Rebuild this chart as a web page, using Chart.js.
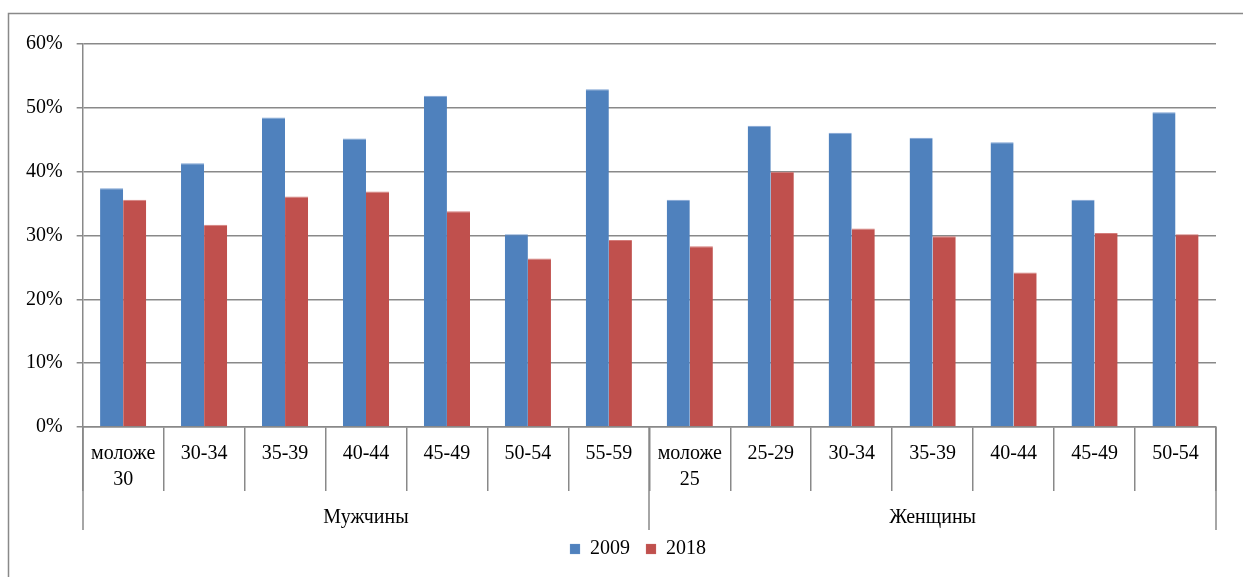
<!DOCTYPE html>
<html>
<head>
<meta charset="utf-8">
<script src="https://cdn.jsdelivr.net/npm/chart.js@4"></script>
<style>
  html, body { margin: 0; padding: 0; background: #fff; }
  #wrap { width: 1243px; height: 577px; }
</style>
</head>
<body>
<div id="wrap"><canvas id="grafico"></canvas></div>
<script>
// подписи категорий (две строки для "моложе ...")
const categorias = [
  ['моложе', '30'], '30-34', '35-39', '40-44', '45-49', '50-54', '55-59',
  ['моложе', '25'], '25-29', '30-34', '35-39', '40-44', '45-49', '50-54'
];
const grupos = ['Мужчины', 'Женщины'];
const tamanoGrupos = [7, 7];

const serie2009 = [37.4, 41.3, 48.5, 45.2, 51.9, 30.2, 52.9, 35.6, 47.2, 46.1, 45.3, 44.6, 35.6, 49.3];
const serie2018 = [35.6, 31.7, 36.1, 36.9, 33.8, 26.4, 29.3, 28.3, 40.0, 31.1, 29.9, 24.2, 30.4, 30.2];

const yTicks = [0, 10, 20, 30, 40, 50, 60];

const fuente = 'Liberation Serif';
const gris = '#898989';

// marco, separadores de grupos y nombres de grupos
const ejeGrupos = {
  id: 'ejeGrupos',
  afterLayout(chart) {
    // la leyenda centrada como en el original (algo a la derecha)
    chart.legend.left = 60;
  },
  afterDraw(chart) {
    const ctx = chart.ctx;
    const x = chart.scales.x;
    const y0 = chart.chartArea.bottom;

    ctx.save();
    ctx.strokeStyle = gris;
    ctx.lineWidth = 1.5;
    // marco del gráfico
    ctx.beginPath();
    ctx.moveTo(8.5, 577);
    ctx.lineTo(8.5, 13.5);
    ctx.lineTo(1243, 13.5);
    ctx.stroke();

    const borde = (i) => {
      if (i <= 0) return x.left;
      if (i >= categorias.length) return x.right;
      return (x.getPixelForValue(i - 1) + x.getPixelForValue(i)) / 2;
    };

    let inicio = 0;
    ctx.font = '20px "' + fuente + '"';
    ctx.fillStyle = '#000';
    ctx.textAlign = 'center';
    ctx.textBaseline = 'middle';
    const limites = [0];
    tamanoGrupos.forEach((n, g) => {
      const a = borde(inicio), b = borde(inicio + n);
      ctx.fillText(grupos[g], (a + b) / 2, y0 + 91);
      inicio += n;
      limites.push(inicio);
    });
    limites.forEach(i => {
      const px = Math.round(borde(i));
      ctx.beginPath();
      ctx.moveTo(px, y0);
      ctx.lineTo(px, y0 + 103);
      ctx.stroke();
    });
    ctx.restore();
  }
};

const canvas = document.querySelector('#grafico');

const config = {
  type: 'bar',
  data: {
    labels: categorias,
    datasets: [
      {
        label: '2009',
        data: serie2009,
        backgroundColor: '#4F81BD',
        borderColor: '#7FA3D3',
        borderWidth: { left: 0, right: 0, top: 1, bottom: 0 }
      },
      {
        label: '2018',
        data: serie2018,
        backgroundColor: '#C0504D',
        borderColor: '#D47C7A',
        borderWidth: { left: 0, right: 0, top: 1, bottom: 0 }
      }
    ]
  },
  options: {
    responsive: true,
    maintainAspectRatio: false,
    animation: false,
    devicePixelRatio: 1,
    barPercentage: 1,
    categoryPercentage: 0.57,
    layout: { padding: { left: 12, right: 27, top: 44, bottom: 8 } },
    plugins: {
      tooltip: { enabled: false },
      legend: {
        position: 'bottom',
        labels: {
          boxWidth: 10,
          boxHeight: 10,
          padding: 16,
          color: '#000',
          font: { family: fuente, size: 20 }
        }
      }
    },
    scales: {
      x: {
        offset: true,
        grid: {
          offset: true,
          drawOnChartArea: false,
          drawTicks: true,
          tickLength: 64,
          color: gris,
          lineWidth: 1.5
        },
        border: { color: gris, width: 1.5 },
        ticks: {
          autoSkip: false,
          maxRotation: 0,
          padding: -50,
          color: '#000',
          font: { family: fuente, size: 20, lineHeight: 1.3 }
        },
        afterFit(scale) { scale.height = 96; }
      },
      y: {
        min: 0,
        max: 60,
        afterBuildTicks(scale) { scale.ticks = yTicks.map(v => ({ value: v })); },
        grid: { color: gris, lineWidth: 1.5, tickLength: 6 },
        border: { color: gris, width: 1.5 },
        ticks: {
          padding: 14,
          color: '#000',
          font: { family: fuente, size: 20 },
          callback: (v) => v + '%'
        }
      }
    }
  },
  plugins: [ejeGrupos]
};

new Chart(canvas, config);
</script>
</body>
</html>
